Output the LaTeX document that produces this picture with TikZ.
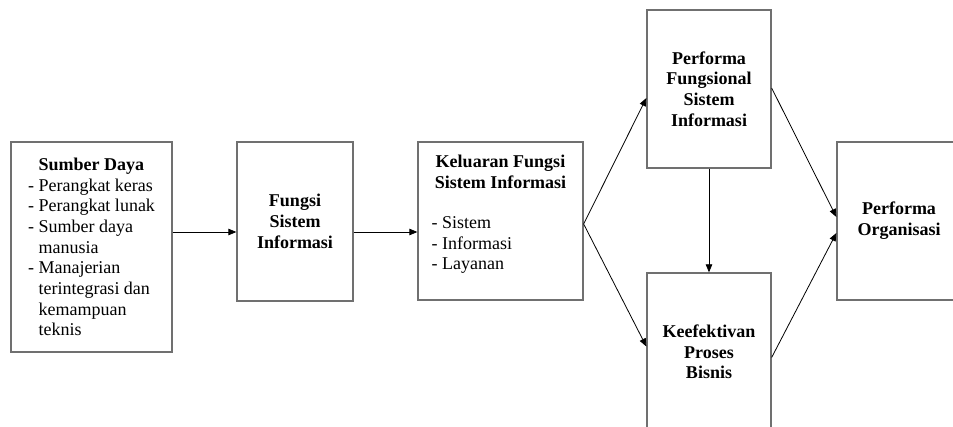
\documentclass[tikz,border=0pt]{standalone}
\usepackage{fontspec}
\setmainfont{Liberation Serif}
\usetikzlibrary{arrows.meta,calc}
\definecolor{boxgray}{RGB}{112,112,112}
\newcommand\hind{\hspace*{10.5pt}}
\begin{document}
\begin{tikzpicture}[x=1pt,y=-1pt,
  font=\fontsize{18pt}{20.7pt}\selectfont,
  box/.style 2 args={draw=boxgray,line width=1.3pt,minimum width=#1,minimum height=#2,inner sep=0pt,align=center},
  lbl/.style={inner sep=0pt,align=center,font=\fontsize{18pt}{20.7pt}\selectfont\bfseries},
  arr/.style={-{Triangle[length=8pt,width=6.5pt]},line width=0.8pt,black}]
\useasboundingbox (0,0) rectangle (953,427);
\clip (0,0) rectangle (953,427);
\fill[white] (0,0) rectangle (953,427);
\node[box={161pt}{210pt},align=left] (sd) at (91.5,247)
  {\hind\textbf{Sumber Daya}\\- Perangkat keras\\- Perangkat lunak\\- Sumber daya\\\hind manusia\\- Manajerian\\\hind terintegrasi dan\\\hind kemampuan\\\hind teknis};
\node[box={116pt}{159pt},font=\fontsize{18pt}{20.7pt}\selectfont\bfseries] (fsi) at (295,221.5) {Fungsi\\Sistem\\Informasi};
\node[box={165pt}{158pt}] (kel) at (500.5,221) {};
\node[lbl] (keltitle) at ($(kel.center)+(0,-49)$) {Keluaran Fungsi\\Sistem Informasi};
\node[inner sep=0pt,align=left,anchor=west] (kellist) at ($(kel.west)+(14,24)$) {- Sistem\\- Informasi\\- Layanan};
\node[box={124pt}{158pt},font=\fontsize{18pt}{20.7pt}\selectfont\bfseries] (pf) at (709,89) {Performa\\Fungsional\\Sistem\\Informasi};
\node[box={124pt}{158pt},font=\fontsize{18pt}{20.7pt}\selectfont\bfseries] (kp) at (709,352) {Keefektivan\\Proses\\Bisnis};
\node[box={124pt}{158pt},font=\fontsize{18pt}{20.7pt}\selectfont\bfseries] (po) at (899,221) {Performa\\Organisasi};
\draw[arr] ($(sd.east)+(0,-15)$) -- ($(fsi.west)+(0,10.5)$);
\draw[arr] ($(fsi.east)+(0,10.5)$) -- ($(kel.west)+(0,11)$);
\draw[arr] ($(kel.east)+(0,3)$) -- ($(pf.west)+(0,9)$);
\draw[arr] ($(kel.east)+(0,3)$) -- ($(kp.west)+(0,-5.5)$);
\draw[arr] (pf.south) -- (kp.north);
\draw[arr] ($(pf.east)+(0,-1)$) -- ($(po.west)+(0,-4)$);
\draw[arr] ($(kp.east)+(0,5.5)$) -- ($(po.west)+(0,12)$);
\end{tikzpicture}
\end{document}
